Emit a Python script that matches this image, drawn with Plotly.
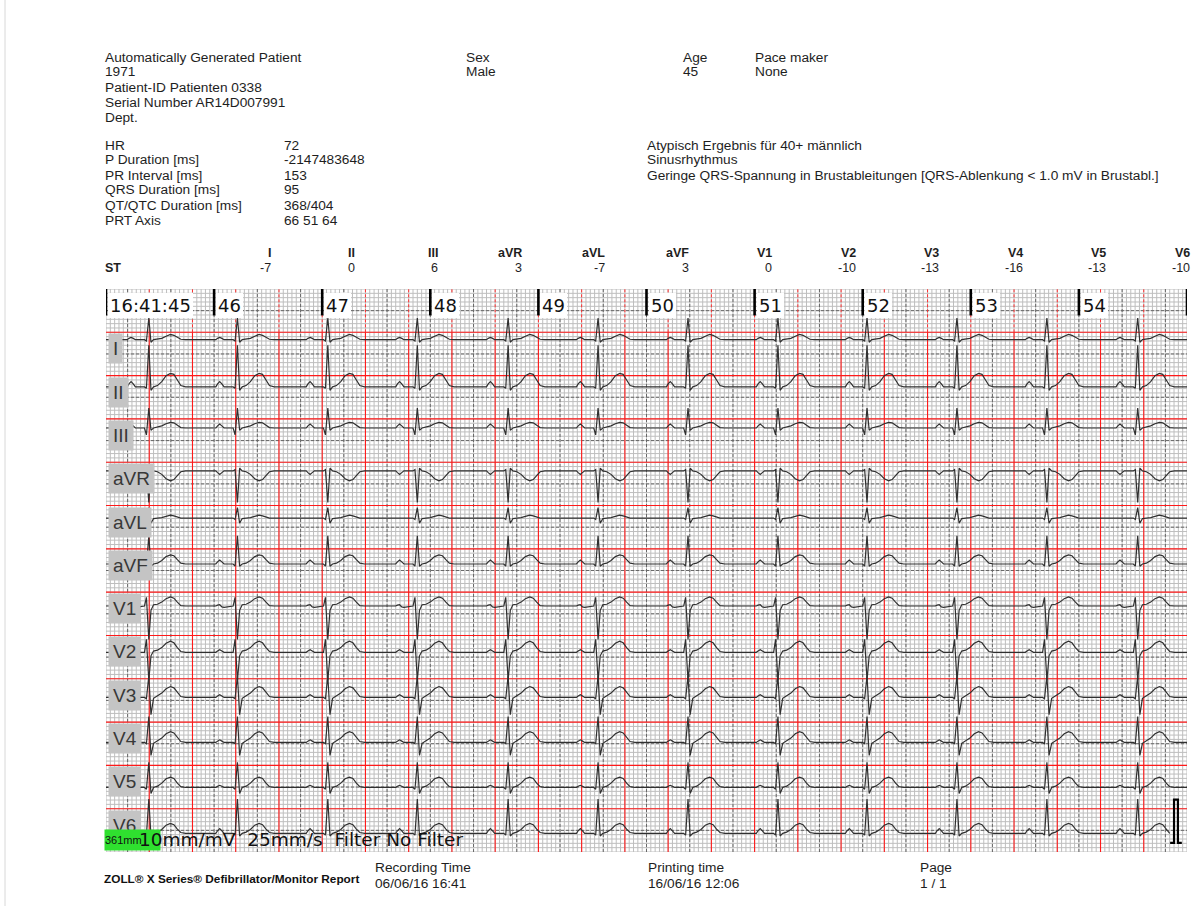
import plotly.graph_objects as go

# ---------------- report header ----------------
PATIENT_LINES = ["Automatically Generated Patient", "1971", "Patient-ID Patienten 0338",
                 "Serial Number AR14D007991", "Dept."]
SEX = ["Sex", "Male"]
AGE = ["Age", "45"]
PACEMAKER = ["Pace maker", "None"]
MEASURE_NAMES = ["HR", "P Duration [ms]", "PR Interval [ms]", "QRS Duration [ms]",
                 "QT/QTC Duration [ms]", "PRT Axis"]
MEASURE_VALUES = ["72", "-2147483648", "153", "95", "368/404", "66 51 64"]
INTERPRETATION = ["Atypisch Ergebnis für 40+ männlich", "Sinusrhythmus",
                  "Geringe QRS-Spannung in Brustableitungen [QRS-Ablenkung < 1.0 mV in Brustabl.]"]
FOOTER_TITLE = "ZOLL® X Series® Defibrillator/Monitor Report"
RECORDING = ["Recording Time", "06/06/16 16:41"]
PRINTING = ["Printing time", "16/06/16 12:06"]
PAGE = ["Page", "1 / 1"]

# ---------------- leads / ST levels ----------------
LEADS = ["I", "II", "III", "aVR", "aVL", "aVF", "V1", "V2", "V3", "V4", "V5", "V6"]
ST_VALUES = [-7, 0, 6, 3, -7, 3, 0, -10, -13, -16, -13, -10]

# ---------------- strip timing ----------------
SPEED_MM_PER_S = 25
GAIN_MM_PER_MV = 10
STRIP_SECONDS = 10
TIME_LABELS = ["16:41:45", "46", "47", "48", "49", "50", "51", "52", "53", "54"]
# R-peak positions along the strip (mm from strip start)
BEAT_TIMES_MM = [9.9, 30.4, 51.3, 72.0, 93.0, 113.8, 134.6, 155.4, 176.0, 196.8, 217.6, 238.6]
# isoelectric level of each lead (mm above the strip bottom)
BASELINES_MM = [118.3, 107.4, 97.9, 88.0, 77.1, 66.5, 56.8, 46.1, 35.7, 25.3, 14.9, 4.3]

# beat template sample positions relative to the R peak (mm)
BEAT_OFFSETS_MM = [-6.0, -5.0, -4.6, -4.1, -3.6, -3.1, -1.0, -0.55, 0.0, 0.5, 1.1,
                   2.0, 3.0, 4.0, 5.0, 5.8, 6.6, 7.4, 8.5]
# beat amplitudes per lead (mm, 10 mm = 1 mV)
LEAD_I = [0, 0, 0.3, 0.5, 0.3, 0, 0, -0.3, 5.0, -0.6, 0, 0.1, 0.3, 0.8, 1.2, 1.0, 0.5, 0.1, 0]
LEAD_II = [0, 0, 0.7, 1.2, 0.7, 0, 0, -0.3, 9.6, -0.8, 0, 0.3, 1.2, 2.6, 3.1, 2.9, 1.6, 0.3, 0]
LEAD_III = [0, 0, 0.5, 0.9, 0.5, 0, 0, -1.6, 4.6, -0.5, 0, 0.2, 0.5, 1.0, 1.3, 1.2, 0.6, 0.1, 0]
LEAD_AVR = [0, 0, -0.4, -0.8, -0.4, 0, 0, 0.3, -7.3, 0.6, 0, -0.2, -0.8, -1.8, -2.3, -2.0, -1.1, -0.2, 0]
LEAD_AVL = [0, 0, 0, 0.1, 0, 0, 0, -0.3, 2.4, -1.2, -0.1, 0, 0.1, 0.4, 0.7, 0.5, 0.2, 0, 0]
LEAD_AVF = [0, 0, 0.5, 0.9, 0.5, 0, 0, -0.5, 6.5, -0.5, 0, 0.2, 0.8, 1.7, 2.1, 1.9, 1.0, 0.2, 0]
LEAD_V1 = [0, 0, 0.2, 0.3, -0.2, -0.3, 0, 2.0, -7.7, -1.0, 0.3, 0.4, 0.9, 1.7, 2.1, 1.8, 0.9, 0.1, 0]
LEAD_V2 = [0, 0, 0.3, 0.6, 0.3, 0, 0, 3.0, -6.5, -0.8, 0.3, 0.5, 1.1, 2.1, 2.6, 2.2, 1.1, 0.2, 0]
LEAD_V3 = [0, 0, 0.3, 0.6, 0.3, 0, 0, -0.3, 5.0, -4.0, -0.2, 0.3, 1.0, 2.0, 2.5, 2.2, 1.1, 0.2, 0]
LEAD_V4 = [0, 0, 0.3, 0.6, 0.3, 0, 0, -0.3, 6.0, -3.0, -0.2, 0.3, 1.0, 2.0, 2.5, 2.2, 1.1, 0.2, 0]
LEAD_V5 = [0, 0, 0.3, 0.5, 0.3, 0, 0, -0.4, 5.8, -1.4, 0, 0.3, 1.0, 2.0, 2.4, 2.1, 1.0, 0.2, 0]
LEAD_V6 = [0, 0, 0.6, 1.1, 0.6, 0, 0, -0.4, 7.9, -0.6, 0, 0.3, 0.9, 1.9, 2.3, 2.0, 1.0, 0.2, 0]
LEAD_BEATS = [LEAD_I, LEAD_II, LEAD_III, LEAD_AVR, LEAD_AVL, LEAD_AVF,
              LEAD_V1, LEAD_V2, LEAD_V3, LEAD_V4, LEAD_V5, LEAD_V6]
# where each lead's trace stops (V6 leaves room for the calibration pulse)
TRACE_END_MM = [250] * 11 + [246.0]

# calibration pulse
CAL_MV = 1.0
CAL_START_MM = 246.1
CAL_BASE_MM = 2.1
CAL_WIDTH_MM = 0.9

SCALE_TEXT = "10mm/mV  25mm/s  Filter No Filter"
SCALE_TAG = "361mm"

# ---------------- page geometry (pixels) ----------------
W, H = 1191, 906
ML, MR, MT, MB = 106, 4, 289, 54
PW, PH = W - ML - MR, H - MT - MB
STRIP_MM = SPEED_MM_PER_S * STRIP_SECONDS          # 250 mm
ROWS_MM = 130                                       # 12 lead rows + time row


def xp(px):
    return (px - ML) / PW


def yp(py):
    return (H - MB - py) / PH


def mm_to_py(mm):
    return H - MB - mm * PH / ROWS_MM


fig = go.Figure()


def add_lines(segments, color, width, dash="solid"):
    xs, ys = [], []
    for (x0, y0, x1, y1) in segments:
        xs += [x0, x1, None]
        ys += [y0, y1, None]
    fig.add_trace(go.Scatter(x=xs, y=ys, mode="lines", hoverinfo="skip",
                             line=dict(color=color, width=width, dash=dash)))


# ---- ECG paper grid ----
minor = [(x, 0, x, ROWS_MM) for x in range(0, STRIP_MM + 1)] + \
        [(0, y, STRIP_MM, y) for y in range(0, ROWS_MM + 1)]
add_lines(minor, "#bebebe", 1)
dashed = [(x, 0, x, ROWS_MM) for x in range(5, STRIP_MM, 10)] + \
         [(0, y, STRIP_MM, y) for y in range(5, ROWS_MM, 10)]
add_lines(dashed, "#686868", 1, "3px,2px")
red_v = [(x, 0, x, ROWS_MM - 10) for x in range(10, STRIP_MM, 10)]
red_h = [(0, y, STRIP_MM, y) for y in range(10, ROWS_MM - 9, 10)]
add_lines(red_v + red_h, "#ff1a1a", 1.1)
add_lines([(x, ROWS_MM - 10, x, ROWS_MM) for x in range(10, STRIP_MM, 10)], "#ff3030", 1, "3px,2px")

# ---- ECG traces ----
for amps, base, end in zip(LEAD_BEATS, BASELINES_MM, TRACE_END_MM):
    xs, ys = [0.0], [base]
    for tb in BEAT_TIMES_MM:
        for off, a in zip(BEAT_OFFSETS_MM, amps):
            if 0 <= tb + off <= end:
                xs.append(tb + off)
                ys.append(base + a)
    xs.append(end)
    ys.append(base)
    fig.add_trace(go.Scatter(x=xs, y=ys, mode="lines", hoverinfo="skip",
                             line=dict(color="#303030", width=1.2)))

# ---- second markers ----
bar_bottom = ROWS_MM - 6.1
sec_x, sec_y = [], []
for s in range(STRIP_SECONDS + 1):
    sec_x += [s * SPEED_MM_PER_S, s * SPEED_MM_PER_S, None]
    sec_y += [ROWS_MM, bar_bottom, None]
fig.add_trace(go.Scatter(x=sec_x, y=sec_y, mode="lines", hoverinfo="skip",
                         line=dict(color="#000000", width=2.6)))

# ---- calibration pulse ----
cal_h = CAL_MV * GAIN_MM_PER_MV
cx = [CAL_START_MM, CAL_START_MM + CAL_WIDTH_MM, CAL_START_MM + CAL_WIDTH_MM,
      CAL_START_MM + 2 * CAL_WIDTH_MM, CAL_START_MM + 2 * CAL_WIDTH_MM, CAL_START_MM + 3 * CAL_WIDTH_MM]
cy = [CAL_BASE_MM, CAL_BASE_MM, CAL_BASE_MM + cal_h, CAL_BASE_MM + cal_h, CAL_BASE_MM, CAL_BASE_MM]
fig.add_trace(go.Scatter(x=cx, y=cy, mode="lines", hoverinfo="skip",
                         line=dict(color="#000000", width=2.2)))

ann = []
HDR = dict(family="Liberation Sans, Arial, sans-serif", size=13.7, color="#1e1e1e")


def text(px, py, s, font=HDR, xanchor="left", **kw):
    kw.setdefault("borderpad", 0)
    ann.append(dict(x=xp(px), y=yp(py), xref="paper", yref="paper", text=s,
                    showarrow=False, xanchor=xanchor, yanchor="middle", font=font,
                    borderwidth=0, **kw))


# header block
for i, s in enumerate(PATIENT_LINES):
    text(105, 57 + 15 * i, s)
for i, s in enumerate(SEX):
    text(466, 57 + 15 * i, s)
for i, s in enumerate(AGE):
    text(683, 57 + 15 * i, s)
for i, s in enumerate(PACEMAKER):
    text(755, 57 + 15 * i, s)
for i, (n, v) in enumerate(zip(MEASURE_NAMES, MEASURE_VALUES)):
    text(105, 145 + 15 * i, n)
    text(284, 145 + 15 * i, v)
for i, s in enumerate(INTERPRETATION):
    text(647, 145 + 15 * i, s)

# ST row
BOLD = dict(HDR, size=12.5)
text(105, 268, "<b>ST</b>", BOLD)
for i, (lead, st) in enumerate(zip(LEADS, ST_VALUES)):
    rx = 271 + 83.5 * i
    text(rx, 253, "<b>" + lead + "</b>", BOLD, xanchor="right")
    text(rx, 268, str(st), dict(HDR, size=12.5), xanchor="right")

# time labels
TFONT = dict(family="DejaVu Sans, sans-serif", size=18, color="#111111")
for s, lab in enumerate(TIME_LABELS):
    px = ML + s * SPEED_MM_PER_S * PW / STRIP_MM
    text(px + 2, 305, lab, TFONT, bgcolor="#ffffff", borderpad=2)

# lead labels
LFONT = dict(family="Liberation Sans, Arial, sans-serif", size=19, color="#383838")
for k, lead in enumerate(LEADS):
    top = mm_to_py(ROWS_MM - 10 - 10 * k) + 1
    ann.append(dict(x=xp(108), y=yp(top), xref="paper", yref="paper", text=lead,
                    showarrow=False, xanchor="left", yanchor="top", font=LFONT,
                    bgcolor="#c4c4c4", borderpad=4))

# scale tag and settings text
ann.append(dict(x=xp(104), y=yp(829), xref="paper", yref="paper", text=SCALE_TAG,
                showarrow=False, xanchor="left", yanchor="top", width=55, height=20,
                align="left", bgcolor="#2fe02f", borderpad=0,
                font=dict(family="Liberation Sans, Arial, sans-serif", size=11, color="#111111")))
text(139, 839, SCALE_TEXT, dict(family="DejaVu Sans, sans-serif", size=18.5, color="#111111"))

# footer
text(104, 879, "<b>" + FOOTER_TITLE + "</b>", dict(HDR, size=11.8, color="#111111"))
for px, pair in [(375, RECORDING), (648, PRINTING), (920, PAGE)]:
    text(px, 867, pair[0])
    text(px, 883, pair[1])

fig.update_layout(
    width=W, height=H,
    margin=dict(l=ML, r=MR, t=MT, b=MB, pad=0),
    paper_bgcolor="#ffffff", plot_bgcolor="#ffffff",
    showlegend=False,
    xaxis=dict(range=[0, STRIP_MM], visible=False, fixedrange=True),
    yaxis=dict(range=[0, ROWS_MM], visible=False, fixedrange=True),
    annotations=ann,
    shapes=[dict(type="line", xref="paper", yref="paper", x0=xp(5), x1=xp(5),
                 y0=yp(0), y1=yp(H), line=dict(color="#d8d8d8", width=1))],
)

fig.write_html("out.html")
